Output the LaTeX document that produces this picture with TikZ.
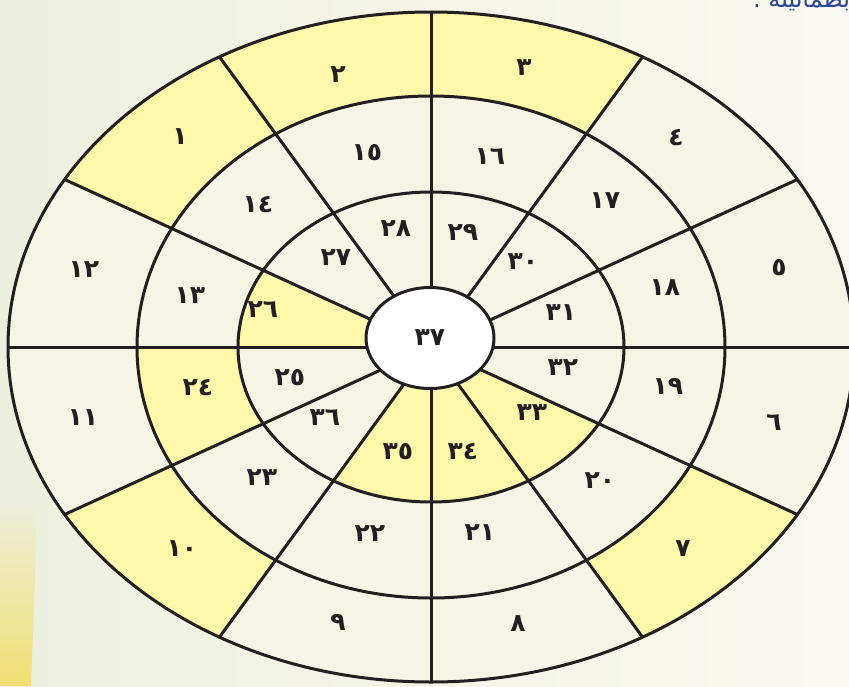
\documentclass[tikz,border=0pt]{standalone}
\usepackage{fontspec}
\newfontfamily\numfont{DejaVu Sans}
\newfontfamily\arabicfont[Script=Arabic]{DejaVu Sans}
\TeXXeTstate=1
\usetikzlibrary{shapes.geometric}
\definecolor{bgleft}{HTML}{EDF0DE}
\definecolor{bgright}{HTML}{FAF9F0}
\definecolor{cream}{HTML}{F6F5E5}
\definecolor{lemon}{HTML}{FFF7A9}
\definecolor{ink}{HTML}{231F20}
\definecolor{titleblue}{HTML}{2E4795}
\definecolor{edgegold}{HTML}{F0DF72}

\begin{document}
\begin{tikzpicture}[x=1pt, y=-1pt,
		ring/.style={line width=3pt, draw=ink},
		num/.style={text=ink, font=\numfont\bfseries\fontsize{25}{28}\selectfont, inner sep=0pt}]
	% Page
	\useasboundingbox (0,0) rectangle (849,686);
	\shade[left color=bgleft, right color=bgright] (0,0) rectangle (849,686);
	\shade[top color=bgleft, bottom color=edgegold] (0,500) -- (37,500) .. controls (35,580) .. (31,686) -- (0,686) -- cycle;
	
	% Disc
	\coordinate (c) at (431,347);
	\fill[cream] (c) ellipse [x radius=423, y radius=335];
	
	% Yellow cells: outer radii / inner radii / start angle
	\foreach \ox/\oy/\ix/\iy/\a in {423/335/294/251/120, 423/335/294/251/90, 423/335/294/251/60,
			423/335/294/251/300, 423/335/294/251/210, 294/251/193/155/180,
			193/155/40/30/150, 193/155/40/30/300, 193/155/40/30/270, 193/155/40/30/240} {
		\begin{scope}
			\clip (c) -- ({431+846*cos(\a)},{347-670*sin(\a)}) -- ({431+846*cos(\a+30)},{347-670*sin(\a+30)}) -- cycle;
			\fill[lemon, even odd rule] (c) ellipse [x radius=\ox, y radius=\oy] (c) ellipse [x radius=\ix, y radius=\iy];
		\end{scope}
	}
	
	% Spokes
	\foreach \a in {0,30,...,330}
		\draw[ring] (c) -- ({431+423*cos(\a)},{347-335*sin(\a)});
	
	% Rings
	\foreach \rx/\ry in {423/335, 294/251, 193/155}
		\draw[ring] (c) ellipse [x radius=\rx, y radius=\ry];
	
	% Centre
	\node[ring, ellipse, fill=white, minimum width=128pt, minimum height=101pt, num] (s37) at (430,338) {٣٧};
	
	% Numbers
	\foreach \n/\x/\y/\t in {1/180/137/١, 2/338/75/٢, 3/524/68/٣, 4/676/138/٤, 5/779/268/٥, 6/774/423/٦,
			7/683/549/٧, 8/518/624/٨, 9/338/622/٩, 10/182/549/١٠, 11/83/418/١١, 12/84/270/١٢,
			13/190/296/١٣, 14/258/205/١٤, 15/367/153/١٥, 16/490/157/١٦, 17/605/201/١٧, 18/665/288/١٨,
			19/668/386/١٩, 20/600/481/٢٠, 21/480/533/٢١, 22/370/534/٢٢, 23/262/478/٢٣, 24/198/388/٢٤,
			25/290/378/٢٥, 26/263/310/٢٦, 27/336/258/٢٧, 28/396/229/٢٨, 29/463/232/٢٩, 30/523/262/٣٠,
			31/561/313/٣١, 32/563/368/٣٢, 33/532/413/٣٣, 34/463/452/٣٤, 35/398/452/٣٥, 36/325/418/٣٦}
		\node[num] (s\n) at (\x,\y) {\t};
	
	% Caption fragment
	\node[text=titleblue, font=\arabicfont\fontsize{24}{28}\selectfont, anchor=base west, inner sep=0pt] (caption) at (753,7) {\beginR بطمأنينة .\endR};
\end{tikzpicture}
\end{document}
